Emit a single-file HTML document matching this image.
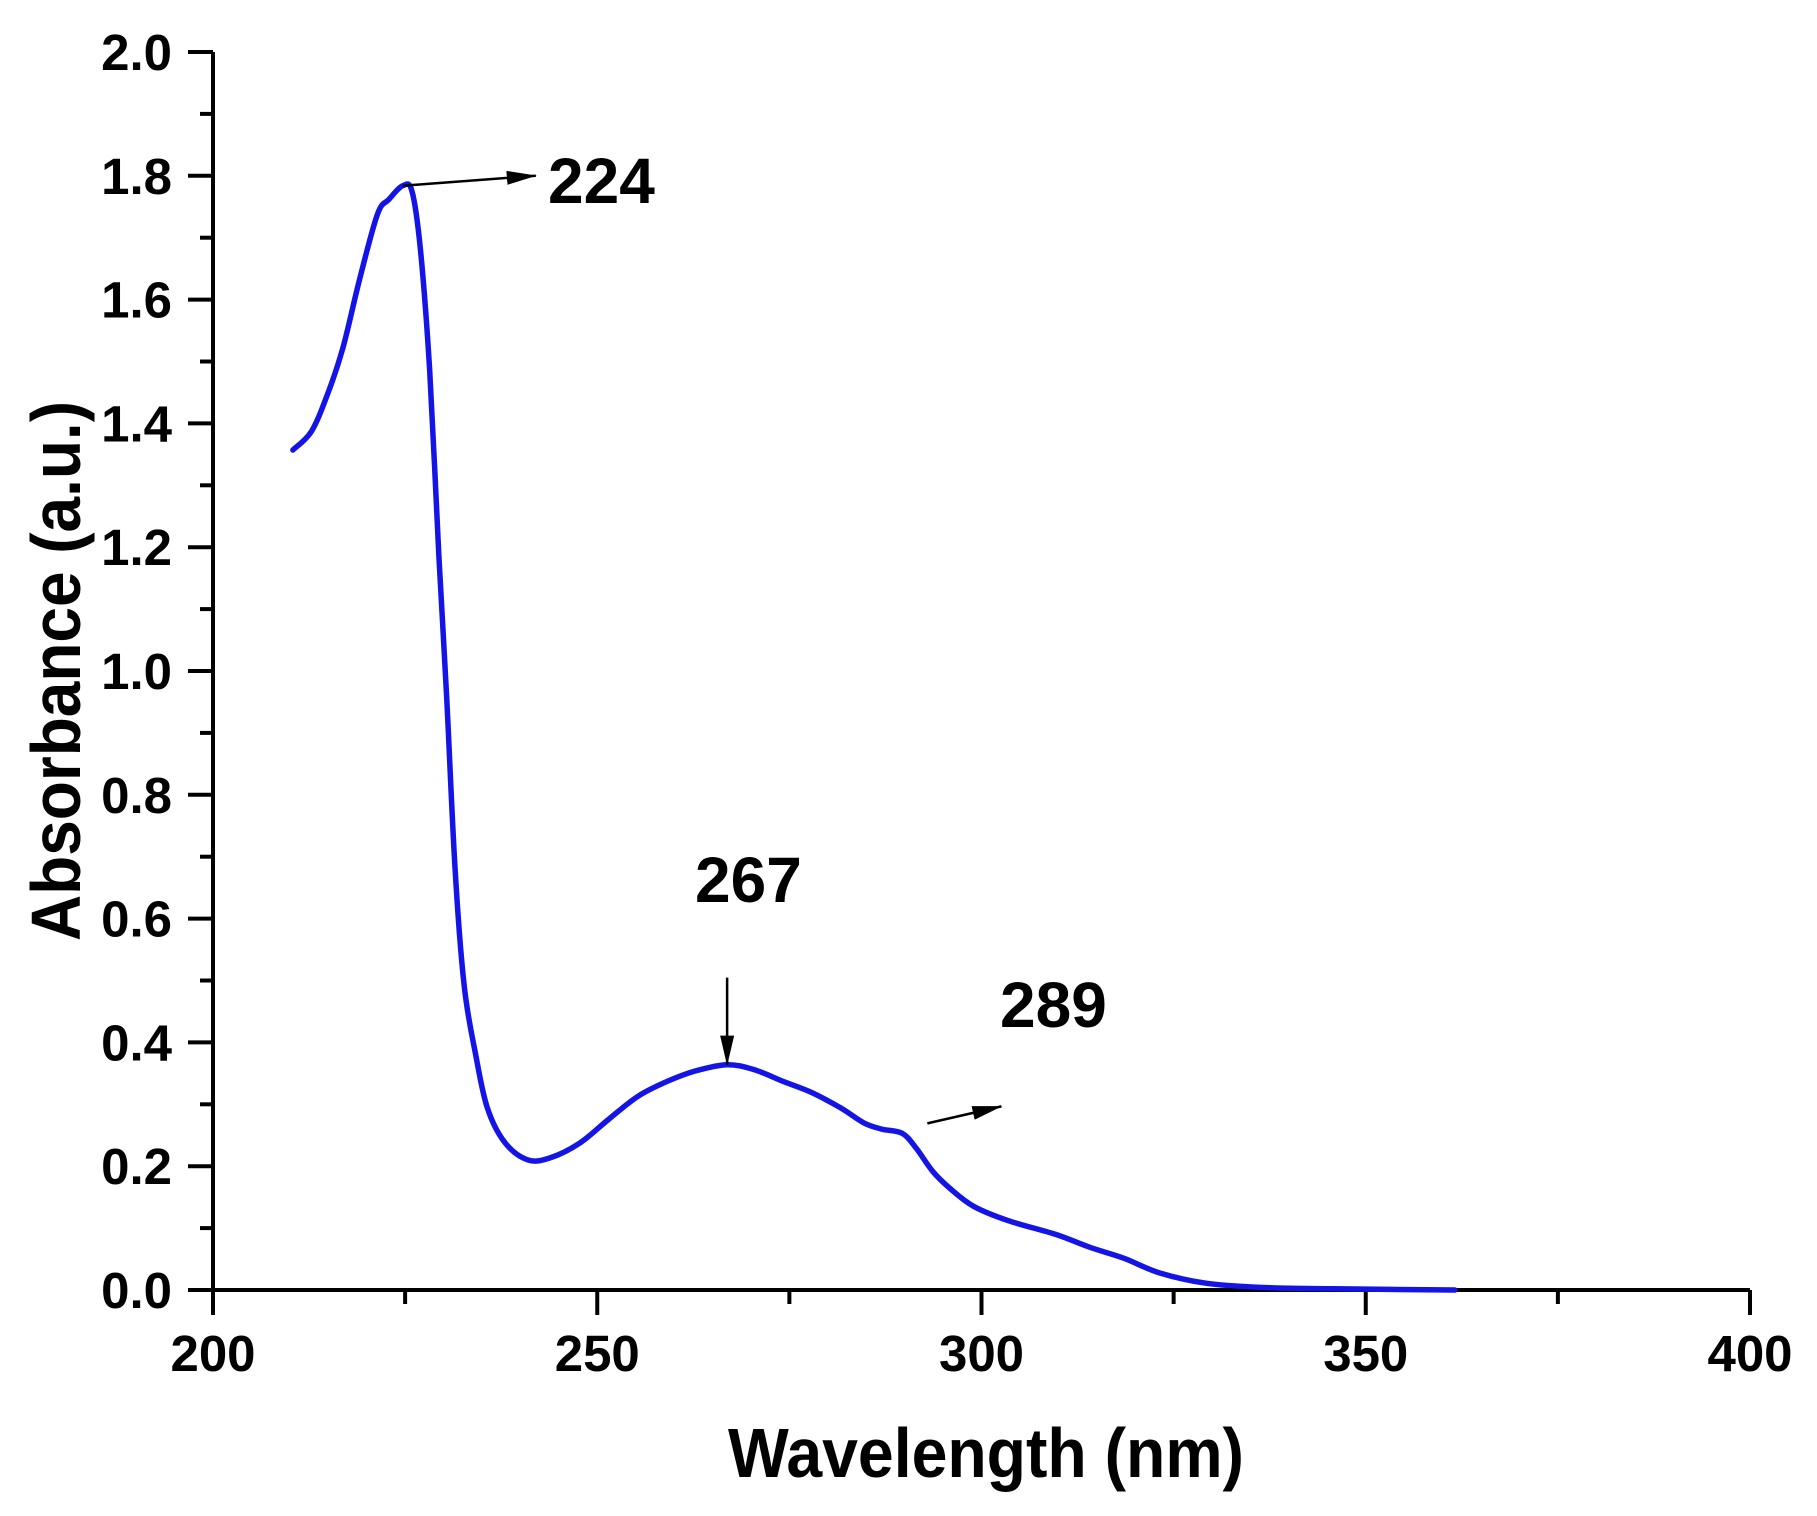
<!DOCTYPE html>
<html><head><meta charset="utf-8"><style>
html,body{margin:0;padding:0;background:#fff;}
svg{display:block;}
text{font-family:"Liberation Sans",Arial,sans-serif;font-weight:bold;fill:#000;}
</style></head>
<body>
<svg id="chart" width="1817" height="1516" viewBox="0 0 1817 1516" xmlns="http://www.w3.org/2000/svg">
<defs><marker id="ah" markerWidth="30" markerHeight="14" refX="29" refY="7" orient="auto" markerUnits="userSpaceOnUse" viewBox="0 0 30 14"><path d="M0,0 L30,7 L0,14 z" fill="#000"/></marker></defs>
<g id="axes"></g>
<g id="series"></g>
<text x="986" y="1477" font-size="70" text-anchor="middle" textLength="516" lengthAdjust="spacingAndGlyphs">Wavelength (nm)</text>
<text transform="translate(80,671) rotate(-90)" font-size="70" text-anchor="middle" textLength="540" lengthAdjust="spacingAndGlyphs">Absorbance (a.u.)</text>
<g id="annots"></g>
</svg>
<script>
const wavelengths=[210.4,212.8,214.9,216.9,219.1,221.4,222.9,224.7,225.9,227,228.2,229.4,230.4,231.5,232.7,234.2,235.7,238,241,244,247.8,251.5,255.3,259.1,262.8,266.9,270.4,274.2,277.9,281.7,284.7,287,289.7,291.5,293.7,296,299,303.5,309.6,314.1,318.6,323.1,329.2,336.7,345.7,361.6];
const absorbance=[1.357,1.387,1.447,1.522,1.634,1.738,1.762,1.784,1.775,1.68,1.485,1.185,0.96,0.68,0.49,0.379,0.294,0.238,0.21,0.214,0.238,0.276,0.313,0.337,0.354,0.364,0.356,0.337,0.319,0.294,0.27,0.26,0.253,0.229,0.191,0.163,0.135,0.112,0.09,0.069,0.051,0.028,0.011,0.004,0.002,0.0];
const xTicks=[200,250,300,350,400];
const yTicks=[0.0,0.2,0.4,0.6,0.8,1.0,1.2,1.4,1.6,1.8,2.0];
const peakLabels=["224","267","289"];
const peakWl=[224.7,266.9,289.7];

const NS="http://www.w3.org/2000/svg";
const X0=213,X1=1750,Y0=1290,Y1=52;
function sx(v){return X0+(v-200)/200*(X1-X0);}
function sy(v){return Y0-(v/2)*(Y0-Y1);}
function mk(tag,attrs,parent){const e=document.createElementNS(NS,tag);for(const k in attrs)e.setAttribute(k,attrs[k]);parent.appendChild(e);return e;}
const axes=document.getElementById('axes');
let e=mk('path',{d:`M${X0},${Y1} V${Y0} H${X1}`,fill:'none',stroke:'#000','stroke-width':4},axes);


xTicks.forEach((t,i)=>{
  const x=sx(t);
  const l=mk('line',{x1:x,y1:Y0,x2:x,y2:Y0+25,stroke:'#000','stroke-width':4},axes);
  
  
  const tx=mk('text',{x:x,y:1371,'font-size':51,'text-anchor':'middle'},axes);
  tx.textContent=t;
  
  
  if(i<xTicks.length-1){
    const xm=sx(t+25);
    const m=mk('line',{x1:xm,y1:Y0,x2:xm,y2:Y0+14,stroke:'#000','stroke-width':4},axes);
    
    
  }
});
yTicks.forEach((t,i)=>{
  const y=sy(t);
  const l=mk('line',{x1:188,y1:y,x2:X0,y2:y,stroke:'#000','stroke-width':4},axes);
  
  
  const tx=mk('text',{x:172,y:y+18,'font-size':51,'text-anchor':'end'},axes);
  tx.textContent=t.toFixed(1);
  
  
  if(i<yTicks.length-1){
    const ym=sy(t+0.1);
    const m=mk('line',{x1:200,y1:ym,x2:X0,y2:ym,stroke:'#000','stroke-width':4},axes);
    
    
  }
});
const series=document.getElementById('series');
const P=wavelengths.map((w,i)=>[sx(w),sy(absorbance[i])]);
let d=`M${P[0][0].toFixed(1)},${P[0][1].toFixed(1)}`;
for(let i=0;i<P.length-1;i++){
  const p0=P[Math.max(0,i-1)],p1=P[i],p2=P[i+1],p3=P[Math.min(P.length-1,i+2)];
  const c1=[p1[0]+(p2[0]-p0[0])/6,p1[1]+(p2[1]-p0[1])/6];
  const c2=[p2[0]-(p3[0]-p1[0])/6,p2[1]-(p3[1]-p1[1])/6];
  d+=` C${c1[0].toFixed(1)},${c1[1].toFixed(1)} ${c2[0].toFixed(1)},${c2[1].toFixed(1)} ${p2[0].toFixed(1)},${p2[1].toFixed(1)}`;
}
const pl=mk('path',{d:d,fill:'none',stroke:'#1414e6','stroke-width':5.5,'stroke-linejoin':'round','stroke-linecap':'round'},series);



const an=document.getElementById('annots');
function interp(w){for(let i=0;i<wavelengths.length-1;i++){if(w>=wavelengths[i]&&w<=wavelengths[i+1]){const f=(w-wavelengths[i])/(wavelengths[i+1]-wavelengths[i]);return absorbance[i]+f*(absorbance[i+1]-absorbance[i]);}}return 0;}
const p0x=sx(peakWl[0]),p0y=sy(interp(peakWl[0]));
let a=mk('line',{x1:p0x,y1:p0y,x2:p0x+133,y2:p0y-10,stroke:'#000','stroke-width':2.5,'marker-end':'url(#ah)'},an);


const p1x=sx(peakWl[1]),p1y=sy(interp(peakWl[1]));
a=mk('line',{x1:p1x,y1:p1y-87,x2:p1x,y2:p1y,stroke:'#000','stroke-width':2.5,'marker-end':'url(#ah)'},an);


const p2x=sx(peakWl[2]),p2y=sy(interp(peakWl[2]));
a=mk('line',{x1:p2x+25,y1:p2y-10,x2:p2x+99,y2:p2y-27,stroke:'#000','stroke-width':2.5,'marker-end':'url(#ah)'},an);


const labPos=[[548,203],[695,902],[1000,1027]];
peakLabels.forEach((s,i)=>{
  const t=mk('text',{x:labPos[i][0],y:labPos[i][1],'font-size':64},an);
  t.textContent=s;
  
  
});
</script>
</body></html>
